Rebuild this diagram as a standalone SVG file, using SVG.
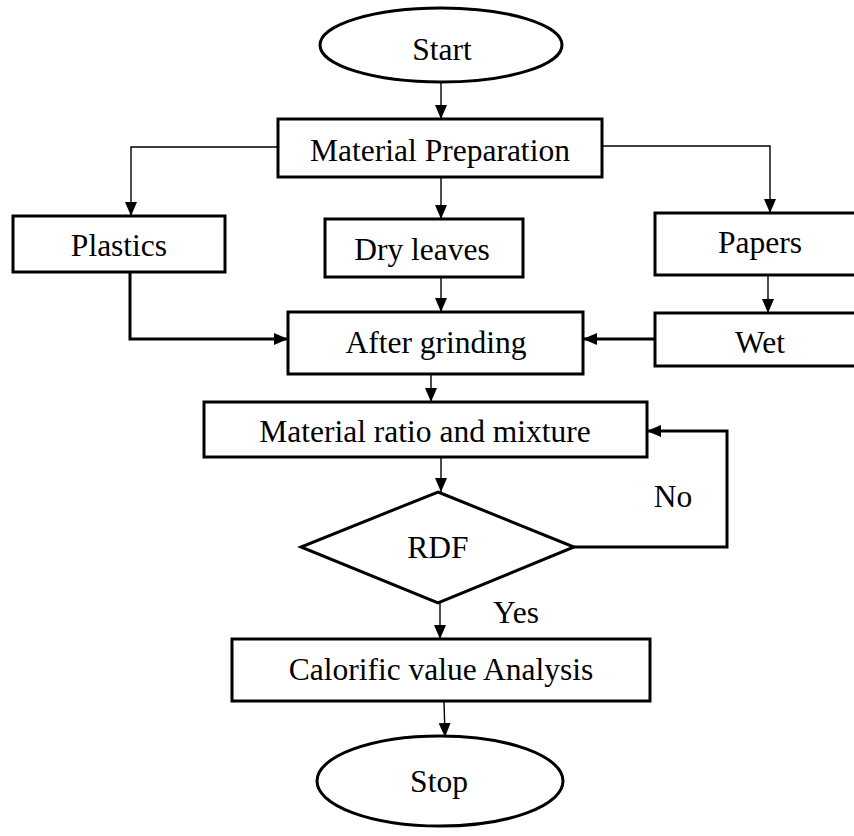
<svg xmlns="http://www.w3.org/2000/svg" width="854" height="836" viewBox="0 0 854 836">
<defs>
<marker id="ah" markerUnits="userSpaceOnUse" markerWidth="14" markerHeight="14" viewBox="0 0 14 14" refX="14" refY="7" orient="auto">
<path d="M0,1 L14,7 L0,13 Z" fill="#000"/>
</marker>
<style>
.box{fill:#fff;stroke:#000;stroke-width:3}
.t{font-family:"Liberation Serif","Times New Roman",serif;font-size:31.5px;fill:#000;text-anchor:middle}
.c{fill:none;stroke:#000;stroke-width:1.4}
.ck{fill:none;stroke:#000;stroke-width:3}
</style>
</defs>
<rect width="854" height="836" fill="#fff"/>
<g id="connectors">
<line class="c" x1="441" y1="82" x2="441" y2="119" marker-end="url(#ah)"/>
<polyline class="c" points="278,147 131,147 131,216" marker-end="url(#ah)"/>
<line class="c" x1="441" y1="177" x2="441" y2="219" marker-end="url(#ah)"/>
<polyline class="c" points="602,146 770,146 770,213" marker-end="url(#ah)"/>
<polyline class="ck" points="130,272 130,339 288,339" marker-end="url(#ah)"/>
<line class="c" x1="441" y1="272" x2="441" y2="312" marker-end="url(#ah)"/>
<line class="c" x1="768" y1="272" x2="768" y2="313" marker-end="url(#ah)"/>
<line class="ck" x1="655" y1="339" x2="583" y2="339" marker-end="url(#ah)"/>
<line class="c" x1="431" y1="364" x2="431" y2="402" marker-end="url(#ah)"/>
<line class="c" x1="441" y1="457" x2="441" y2="492" marker-end="url(#ah)"/>
<polyline class="ck" points="574,547 727,547 727,431 647,431" marker-end="url(#ah)"/>
<line class="c" x1="440" y1="603" x2="440" y2="639" marker-end="url(#ah)"/>
<line class="c" x1="444" y1="701" x2="445" y2="737" marker-end="url(#ah)"/>
</g>
<g id="start"><ellipse class="box" cx="441" cy="45" rx="121" ry="37"/><text class="t" x="442" y="60">Start</text></g>
<g id="prep"><rect class="box" x="278" y="119" width="324" height="58"/><text class="t" x="440" y="161">Material Preparation</text></g>
<g id="plastics"><rect class="box" x="13" y="216" width="212" height="56"/><text class="t" x="119" y="256">Plastics</text></g>
<g id="dryleaves"><rect class="box" x="325" y="219" width="198" height="58"/><text class="t" x="422" y="260">Dry leaves</text></g>
<g id="papers"><rect class="box" x="655" y="213" width="215" height="62"/><text class="t" x="760" y="253">Papers</text></g>
<g id="grinding"><rect class="box" x="288" y="312" width="295" height="62"/><text class="t" x="436" y="353">After grinding</text></g>
<g id="wet"><rect class="box" x="655" y="313" width="215" height="53"/><text class="t" x="760" y="353">Wet</text></g>
<g id="ratio"><rect class="box" x="204" y="402" width="443" height="55"/><text class="t" x="425" y="442">Material ratio and mixture</text></g>
<g id="rdf"><polygon class="box" points="438,492 574,547 438,603 301,547"/><text class="t" x="438" y="558">RDF</text></g>
<g id="labels"><text class="t" x="673" y="507">No</text><text class="t" x="516" y="623">Yes</text></g>
<g id="calorific"><rect class="box" x="232" y="639" width="418" height="62"/><text class="t" x="441" y="680">Calorific value Analysis</text></g>
<g id="stop"><ellipse class="box" cx="440" cy="781" rx="123" ry="45"/><text class="t" x="439" y="792">Stop</text></g>
</svg>
